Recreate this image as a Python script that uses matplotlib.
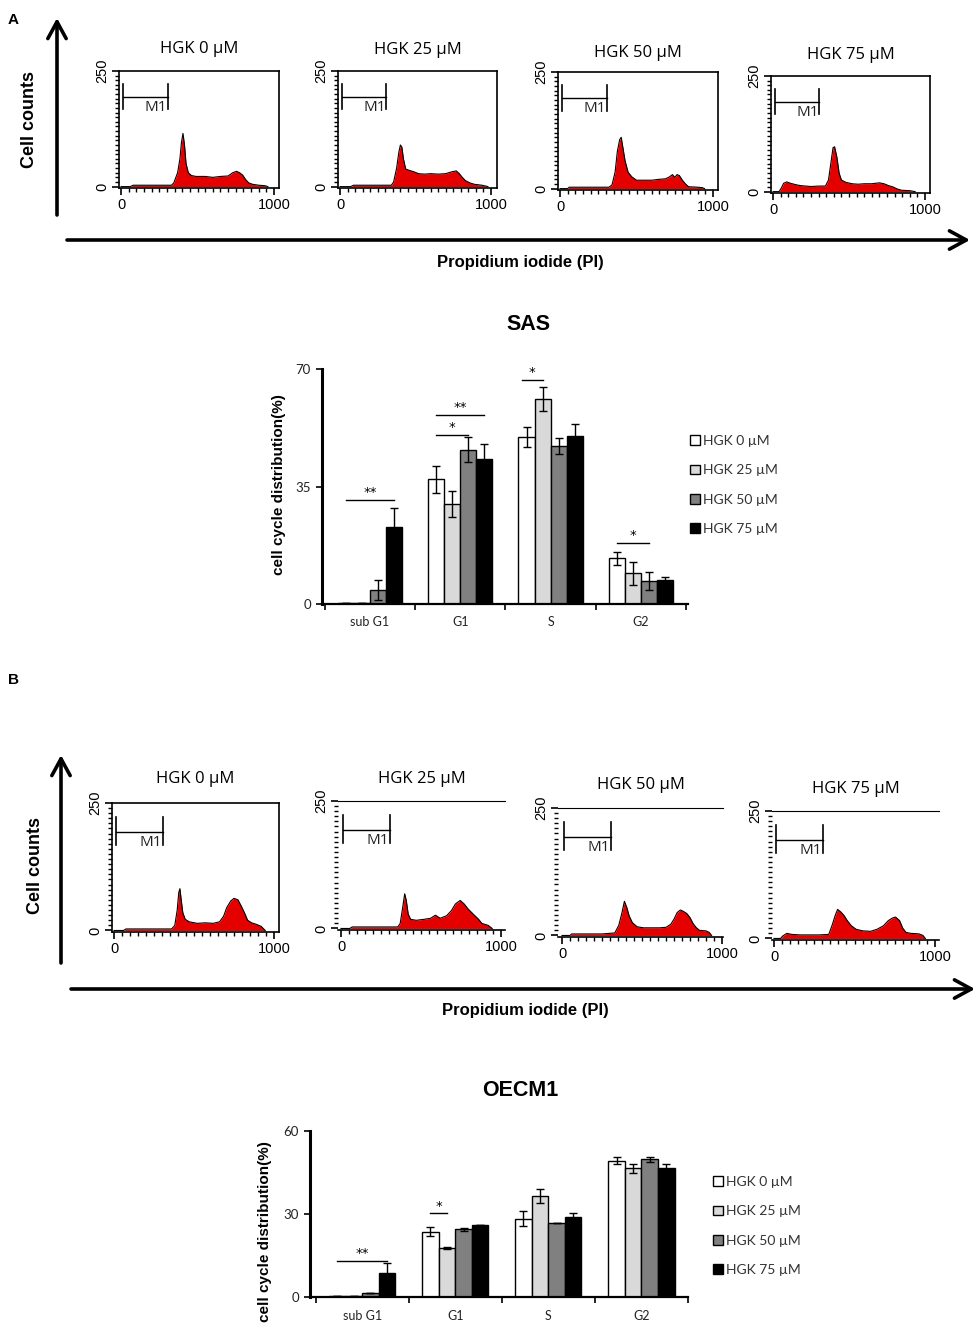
import numpy as np
import matplotlib
matplotlib.use('Agg')
import matplotlib.pyplot as plt
from matplotlib.patches import Patch
from matplotlib.ticker import MultipleLocator

W, H = 980, 1339

doses = ['HGK 0 µM', 'HGK 25 µM', 'HGK 50 µM', 'HGK 75 µM']
phases = ['sub G1', 'G1', 'S', 'G2']
bar_colors = ['white', '#d9d9d9', '#808080', 'black']

# --- flow cytometry histograms (PI channel, cell counts) ---
# panel A (SAS)
a0_x = [0, 60, 80, 330, 345, 370, 385, 395, 405, 415, 425, 440, 460, 490, 550, 600, 650, 700, 730, 755, 775, 795, 815, 835, 860, 900, 940, 960]
a0_y = [0, 0, 3, 3, 8, 30, 60, 95, 115, 90, 50, 30, 24, 22, 22, 20, 22, 23, 30, 33, 30, 25, 15, 8, 5, 3, 2, 0]
a25_x = [0, 70, 90, 340, 355, 375, 390, 400, 410, 420, 435, 460, 490, 520, 560, 600, 650, 700, 740, 770, 790, 810, 830, 860, 890, 940, 980]
a25_y = [0, 0, 3, 3, 10, 40, 75, 90, 85, 60, 38, 35, 32, 28, 27, 28, 27, 28, 32, 34, 28, 20, 13, 8, 5, 3, 0]
a50_x = [0, 50, 60, 320, 340, 360, 375, 390, 400, 410, 425, 445, 470, 500, 550, 600, 650, 690, 715, 735, 750, 765, 780, 800, 820, 840, 900, 930, 945]
a50_y = [0, 0, 3, 3, 8, 35, 80, 105, 110, 90, 60, 35, 25, 18, 18, 18, 20, 21, 25, 30, 24, 30, 28, 18, 10, 4, 3, 2, 0]
a75_x = [0, 40, 55, 70, 90, 115, 150, 180, 250, 300, 345, 365, 380, 395, 405, 420, 435, 450, 480, 520, 560, 600, 650, 700, 730, 760, 790, 815, 845, 900, 935]
a75_y = [0, 0, 8, 18, 21, 18, 15, 13, 11, 12, 12, 25, 60, 95, 97, 75, 40, 25, 20, 17, 16, 17, 17, 19, 17, 13, 10, 6, 3, 2, 0]
# panel B (OECM1)
b0_x = [0, 60, 75, 200, 360, 380, 395, 405, 412, 420, 430, 445, 470, 520, 570, 620, 660, 685, 705, 730, 750, 775, 795, 815, 835, 860, 890, 920, 945]
b0_y = [0, 0, 3, 3, 3, 10, 40, 75, 82, 60, 35, 22, 17, 14, 15, 14, 17, 28, 45, 58, 63, 60, 48, 35, 20, 15, 12, 8, 0]
b25_x = [0, 55, 70, 200, 355, 370, 385, 398, 408, 420, 435, 470, 520, 560, 590, 620, 660, 690, 715, 745, 770, 795, 830, 860, 880, 920, 945]
b25_y = [0, 0, 3, 3, 3, 10, 40, 68, 55, 28, 18, 16, 18, 20, 26, 20, 25, 35, 48, 55, 48, 38, 27, 18, 10, 6, 0]
b50_x = [0, 50, 60, 250, 330, 355, 375, 390, 405, 420, 440, 470, 510, 560, 610, 650, 680, 700, 720, 740, 760, 780, 800, 820, 840, 860, 900, 920, 935]
b50_y = [0, 0, 3, 3, 5, 20, 45, 67, 55, 38, 25, 17, 15, 15, 15, 16, 22, 32, 45, 50, 47, 43, 35, 23, 15, 10, 9, 6, 0]
b75_x = [0, 40, 55, 80, 110, 160, 220, 280, 340, 360, 380, 395, 415, 435, 455, 480, 510, 550, 600, 640, 680, 710, 735, 755, 780, 800, 820, 850, 900, 925, 940]
b75_y = [0, 0, 5, 10, 8, 7, 7, 7, 8, 25, 45, 57, 52, 45, 35, 25, 18, 15, 14, 18, 25, 35, 40, 42, 35, 20, 12, 10, 9, 6, 0]

# M1 gate
m1_lo, m1_hi, m1_level = 10, 305, 194

# --- cell cycle distribution (%) ---
sas_0 = [0.3, 37.2, 49.7, 13.6]
sas_25 = [0.3, 29.8, 61.1, 9.1]
sas_50 = [4.2, 46.0, 47.1, 6.9]
sas_75 = [22.8, 43.2, 50.0, 7.2]
sas_err_0 = [0, 4.0, 2.9, 2.0]
sas_err_25 = [0, 4.0, 3.6, 3.5]
sas_err_50 = [3.0, 3.8, 2.4, 2.6]
sas_err_75 = [5.7, 4.4, 3.5, 0.9]
# (phase, from bar, to bar, height, label)
sas_sig = [(0, 0, 3, 31.0, '**'), (1, 0, 2, 50.3, '*'), (1, 0, 3, 56.3, '**'),
           (2, -0.3, 1, 66.7, '*'), (3, 0, 2, 18.1, '*')]

oecm_0 = [0.3, 23.6, 28.3, 49.3]
oecm_25 = [0.3, 17.6, 36.5, 46.6]
oecm_50 = [1.3, 24.5, 26.6, 49.8]
oecm_75 = [8.8, 26.0, 28.9, 46.7]
oecm_err_0 = [0, 1.7, 2.8, 1.4]
oecm_err_25 = [0, 0.3, 2.4, 1.6]
oecm_err_50 = [0, 0.5, 0, 0.9]
oecm_err_75 = [3.6, 0, 1.3, 1.5]
oecm_sig = [(0, 0, 3, 13.0, '**'), (1, 0, 1, 30.2, '*')]

fig = plt.figure(figsize=(W / 100, H / 100), dpi=100)


def px_axes(left, top, right, bottom):
    return fig.add_axes([left / W, 1 - bottom / H, (right - left) / W, (bottom - top) / H])


def hist_panel(box, ticks, x, y, title, title_y, open_box=False):
    left, top, right, bottom = box
    p0, p1000 = ticks
    ax = px_axes(left, top, right, bottom)
    k = 1000 / (p1000 - p0)
    ax.set_xlim((left - p0) * k, (right - p0) * k)
    ax.set_ylim(-3, 250)
    ax.fill_between(x, y, color='#e50000', lw=0)
    ax.plot(x, y, color='black', lw=0.8)
    # M1 gate marker
    ax.plot([m1_lo, m1_hi], [m1_level, m1_level], color='black', lw=1.0)
    for xe in (m1_lo, m1_hi):
        ax.plot([xe, xe], [m1_level - 27, m1_level + 28], color='black', lw=1.2)
    ax.text((m1_lo + m1_hi) / 2 + 70, m1_level - 22, 'M1', ha='center', va='center',
            fontsize=11, family='Open Sans', color='#222222')
    ax.set_xticks([0, 1000])
    ax.set_xticklabels(['0', '1000'], fontsize=10.5, family='Liberation Sans')
    ax.xaxis.set_minor_locator(MultipleLocator(50))
    ax.set_yticks([0, 250])
    ax.set_yticklabels(['0', '250'], rotation=90, va='center', fontsize=10.5,
                       family='Liberation Sans')
    ax.yaxis.set_minor_locator(MultipleLocator(10))
    ax.tick_params(which='major', direction='out', length=5, width=1.2, pad=2)
    ax.tick_params(which='minor', direction='out', length=3, width=1.0)
    for s in ax.spines.values():
        s.set_linewidth(1.2)
    if open_box:
        ax.spines['right'].set_visible(False)
        ax.spines['left'].set_visible(False)
        ax.spines['top'].set_linewidth(0.8)
    fig.text((left + right) / 2 / W, 1 - title_y / H, title, ha='center', va='center',
             fontsize=12, family='Open Sans')
    return ax


# panel A histograms
hist_panel((119, 71, 279, 188), (121, 274), a0_x, a0_y, doses[0], 49)
hist_panel((338, 71, 497, 188), (340, 491), a25_x, a25_y, doses[1], 50)
hist_panel((558, 72, 718, 190), (560, 713), a50_x, a50_y, doses[2], 53)
hist_panel((771, 76, 930, 193), (773, 925), a75_x, a75_y, doses[3], 55)

# panel B histograms
hist_panel((112, 803, 279, 932), (114, 274), b0_x, b0_y, doses[0], 779)
hist_panel((338, 801, 505, 930), (341, 501), b25_x, b25_y, doses[1], 779, True)
hist_panel((558, 808, 723, 937), (562, 722), b50_x, b50_y, doses[2], 785, True)
hist_panel((772, 811, 939, 940), (774, 935), b75_x, b75_y, doses[3], 789, True)


def bar_panel(box, xlim, ymax, means, errs, sig, title, title_xy, ylabel_xy, legend_xy):
    left, top, right, bottom = box
    ax = px_axes(left, top, right, bottom)
    w = 0.178
    pos = np.arange(len(phases))
    handles = []
    for i, (m, e) in enumerate(zip(means, errs)):
        xs = pos + (i - 1.5) * w
        ax.bar(xs, m, w, color=bar_colors[i], edgecolor='black', lw=1.0, zorder=2)
        ax.errorbar(xs, m, yerr=e, fmt='none', ecolor='black', elinewidth=1.0,
                    capsize=3, capthick=1.0, zorder=3)
        handles.append(Patch(facecolor=bar_colors[i], edgecolor='black', label=doses[i]))
    for ph, b0, b1, yv, lab in sig:
        x0 = ph + (b0 - 1.5) * w
        x1 = ph + (b1 - 1.5) * w
        ax.plot([x0, x1], [yv, yv], color='black', lw=1.0)
        ax.text((x0 + x1) / 2, yv + ymax * 0.005, lab, ha='center', va='bottom', fontsize=9.5)
    ax.set_xlim(*xlim)
    ax.set_ylim(0, ymax)
    ax.set_yticks([0, ymax / 2, ymax])
    ax.set_yticklabels(['0', '%g' % (ymax / 2), '%g' % ymax], fontsize=9.5,
                       family='Lato', color='#222222')
    ax.set_xticks(pos)
    ax.set_xticklabels(phases, fontsize=9, family='Lato', color='#222222')
    ax.set_xticks(np.arange(-0.5, 4.0, 1.0), minor=True)
    ax.tick_params(axis='x', which='major', length=0, pad=9)
    ax.tick_params(axis='x', which='minor', length=4, width=1.2, direction='out')
    ax.tick_params(axis='y', length=4, width=1.2, direction='out', pad=4)
    ax.spines['top'].set_visible(False)
    ax.spines['right'].set_visible(False)
    ax.spines['left'].set_linewidth(2.2)
    ax.spines['bottom'].set_linewidth(1.6)
    fig.text(title_xy[0] / W, 1 - title_xy[1] / H, title, ha='center', va='center',
             fontsize=15.5, fontweight='bold', family='Liberation Sans')
    fig.text(ylabel_xy[0] / W, 1 - ylabel_xy[1] / H, 'cell cycle distribution(%)',
             rotation=90, ha='center', va='center', fontsize=11, fontweight='bold',
             family='Liberation Sans')
    ax.legend(handles=handles, loc='upper left',
              bbox_to_anchor=(legend_xy[0] / W, 1 - legend_xy[1] / H),
              bbox_transform=fig.transFigure, frameon=False,
              handlelength=0.7, handleheight=0.7, handletextpad=0.25,
              labelspacing=1.25, borderaxespad=0, borderpad=0,
              prop={'family': 'Lato', 'size': 10})
    for t in ax.get_legend().get_texts():
        t.set_color('#333333')
    return ax


bar_panel((322, 369, 688, 604), (-0.53, 3.52), 70,
          [sas_0, sas_25, sas_50, sas_75],
          [sas_err_0, sas_err_25, sas_err_50, sas_err_75],
          sas_sig, 'SAS', (528, 324), (279, 485), (690, 435))

bar_panel((310, 1131, 688, 1297), (-0.56, 3.49), 60,
          [oecm_0, oecm_25, oecm_50, oecm_75],
          [oecm_err_0, oecm_err_25, oecm_err_50, oecm_err_75],
          oecm_sig, 'OECM1', (520, 1090), (265, 1232), (713, 1176))

# overlay for arrows and panel labels (pixel coordinates)
ov = fig.add_axes([0, 0, 1, 1])
ov.set_xlim(0, W)
ov.set_ylim(H, 0)
ov.axis('off')
ov.patch.set_visible(False)

arrow = dict(arrowstyle='->,head_length=0.55,head_width=0.3', lw=2.6, color='black',
             mutation_scale=22, shrinkA=0, shrinkB=0)
for (x0, y0, x1, y1) in [(57, 215, 57, 18), (67, 240, 970, 240),
                         (61, 963, 61, 755), (71, 989, 975, 989)]:
    ov.annotate('', xy=(x1, y1), xytext=(x0, y0), arrowprops=arrow)

bold = dict(fontweight='bold', family='Liberation Sans')
ov.text(13, 20, 'A', fontsize=11, ha='center', va='center', **bold)
ov.text(13, 680, 'B', fontsize=11, ha='center', va='center', **bold)
ov.text(30, 120, 'Cell counts', rotation=90, fontsize=13, ha='center', va='center', **bold)
ov.text(36, 866, 'Cell counts', rotation=90, fontsize=13, ha='center', va='center', **bold)
ov.text(520, 262, 'Propidium iodide (PI)', fontsize=12, ha='center', va='center', **bold)
ov.text(525, 1011, 'Propidium iodide (PI)', fontsize=12, ha='center', va='center', **bold)

fig.savefig('out.png', dpi=100)
